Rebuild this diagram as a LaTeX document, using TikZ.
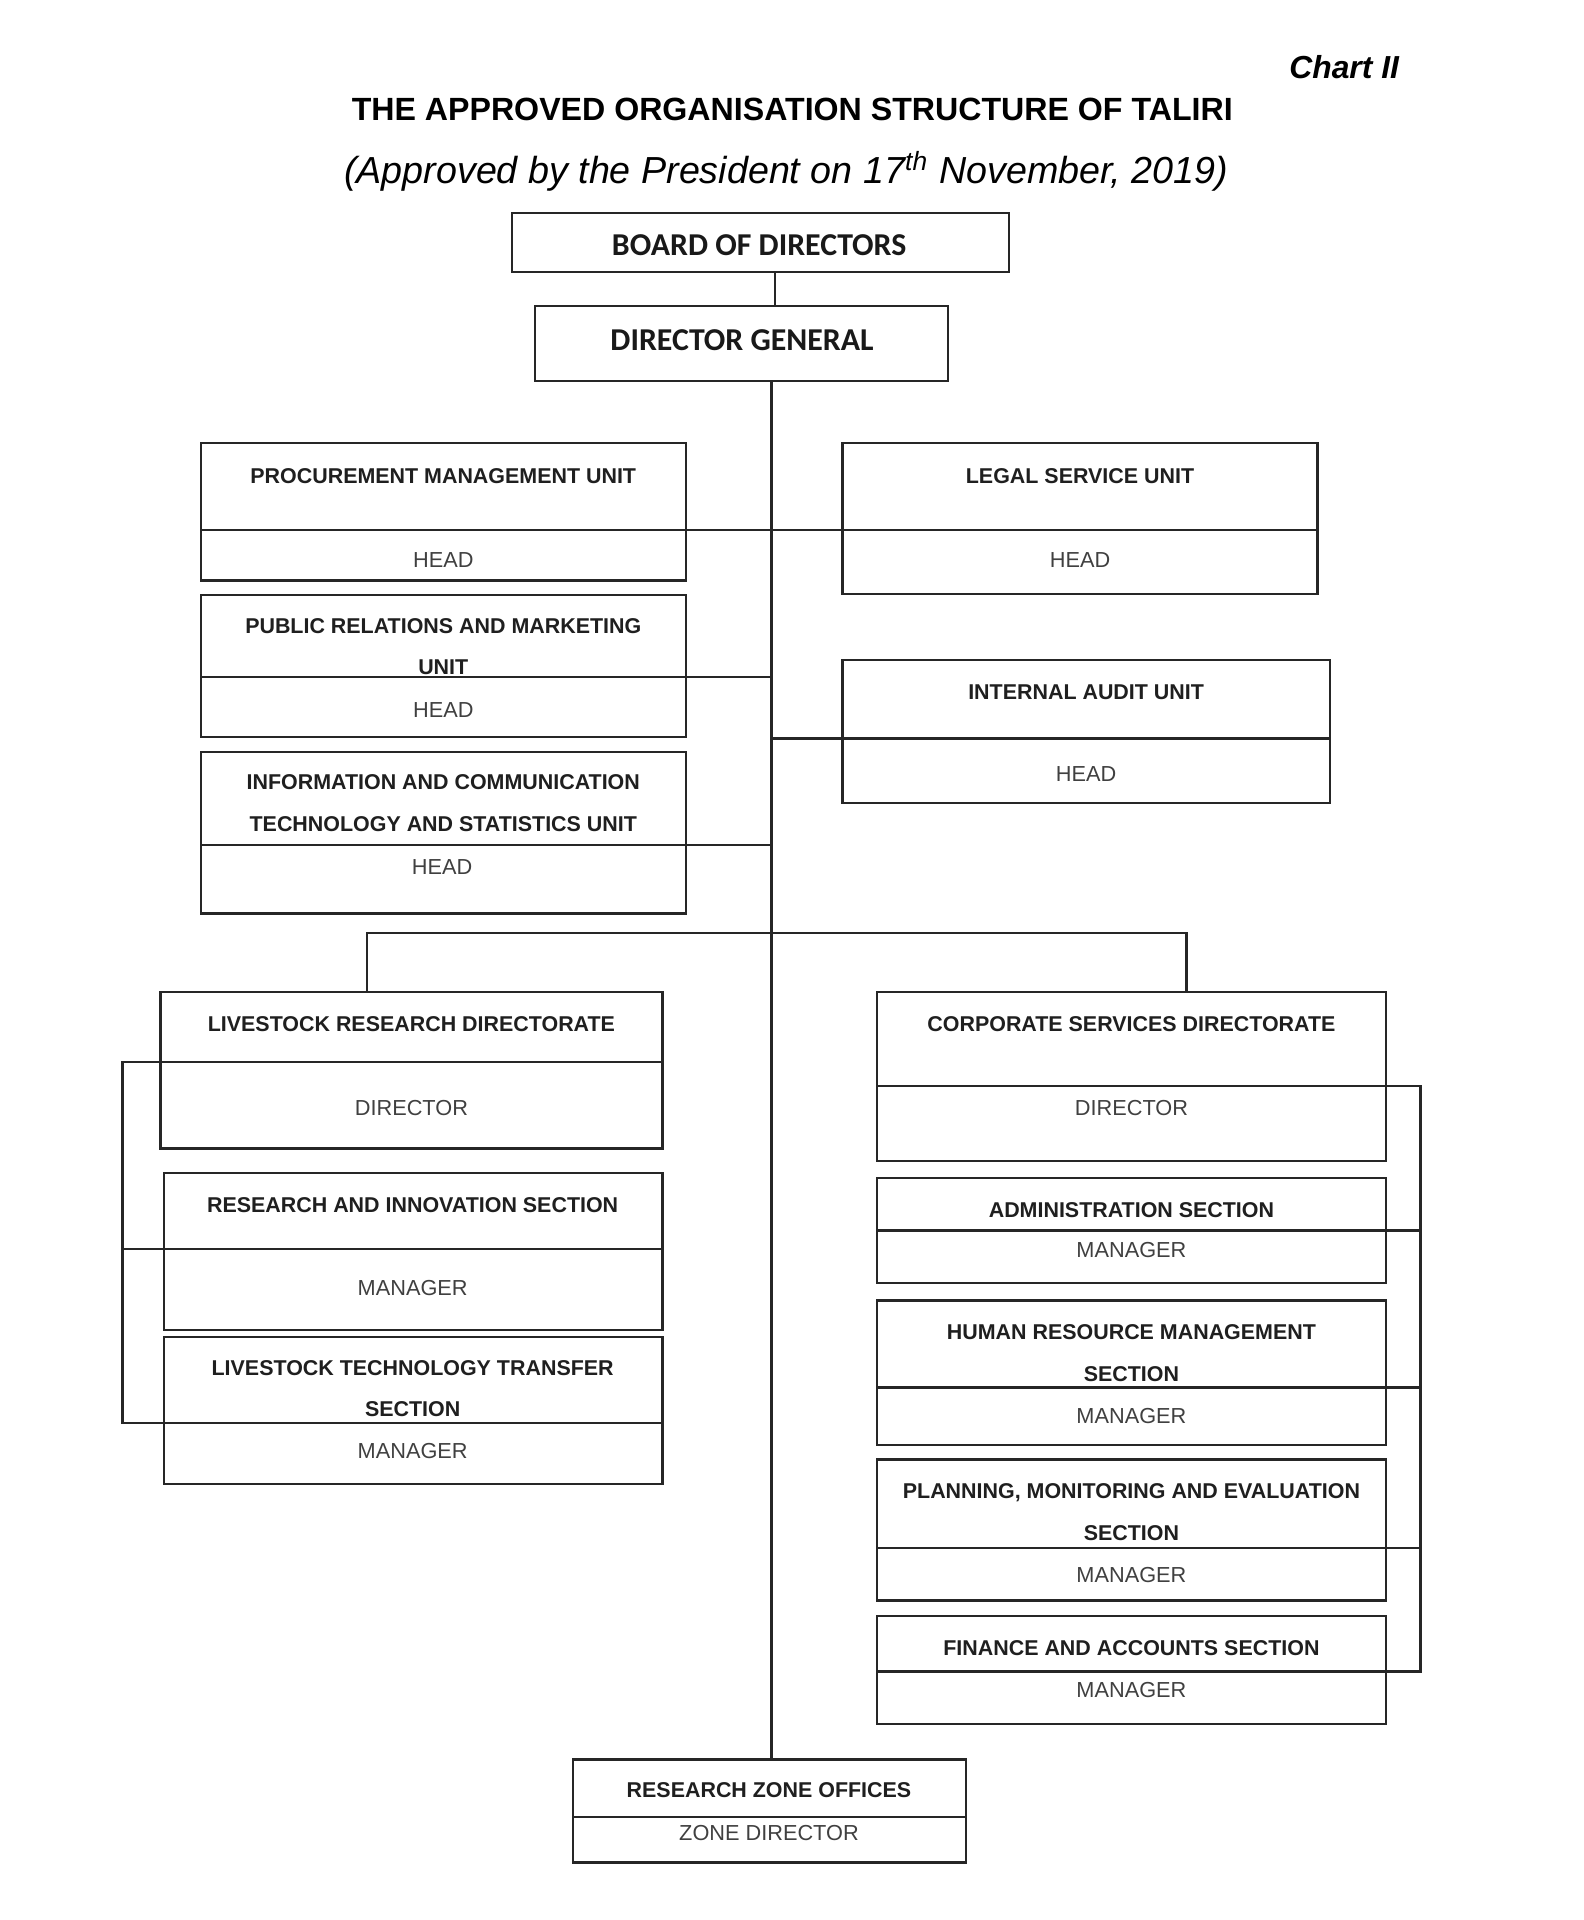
\documentclass[tikz,border=0pt]{standalone}
\usepackage{fontspec}
\setmainfont{Liberation Sans}
\newfontfamily\calib{Carlito}
\usetikzlibrary{fit}
\tikzset{
  box/.style={draw=black!85, line width=0.75pt, inner sep=0pt, outer sep=0pt},
  ln/.style={draw=black!85, line width=0.75pt},
  hd/.style={font=\bfseries\fontsize{7}{13.6}\selectfont, align=center, text=black!88},
  sub/.style={font=\fontsize{7.1}{8}\selectfont, text=black!75},
  big/.style={font=\calib\bfseries\fontsize{10.4}{12}\selectfont, text=black!90}
}
\newcommand\orgbox[6]{%
  \node[box, fit={(#2,#3)(#4,#5)}] (#1) {};
  \draw[ln] (#2,#6) coordinate (#1-dl) -- (#4,#6) coordinate (#1-dr);
}
\begin{document}
\begin{tikzpicture}[x=0.4pt,y=-0.4pt]
\useasboundingbox[fill=white] (0,0) rectangle (1293,1568);

% headings
\node[font=\bfseries\itshape\fontsize{10.4}{12}\selectfont, anchor=east, inner sep=0pt] (chart) at (1143,55) {Chart II};
\node[font=\bfseries\fontsize{10.5}{12}\selectfont] (title) at (647,89) {THE APPROVED ORGANISATION STRUCTURE OF TALIRI};
\node[font=\itshape\fontsize{12.3}{14}\selectfont] (subt) at (642,140) {(Approved by the President on 17\textsuperscript{th} November, 2019)};

% guide coordinates
\coordinate (trunk) at (630,0);
\coordinate (lbx) at (100,0);
\coordinate (rbx) at (1160,0);
\coordinate (bl) at (300,762);
\coordinate (br) at (969,762);
\coordinate (bodx) at (633,0);

% top boxes
\node[box, fit={(418,174)(824,222)}] (bod) {};
\node[big] (bodt) at (620,200) {BOARD OF DIRECTORS};
\node[box, fit={(437,250)(774,311)}] (dg) {};
\node[big] (dgt) at (606,278) {DIRECTOR GENERAL};

% units
\orgbox{pmu}{164}{362}{560}{474}{433}
\node[hd] (pmut) at (362,389) {PROCUREMENT MANAGEMENT UNIT};
\node[sub] (pmuh) at (362,457) {HEAD};

\orgbox{leg}{688}{362}{1076}{485}{433}
\node[hd] (legt) at (882,389) {LEGAL SERVICE UNIT};
\node[sub] (legh) at (882,457) {HEAD};

\orgbox{pr}{164}{486}{560}{602}{553}
\node[hd] (prt) at (362,528) {PUBLIC RELATIONS AND MARKETING\\UNIT};
\node[sub] (prh) at (362,580) {HEAD};

\orgbox{ia}{688}{539}{1086}{656}{603}
\node[hd] (iat) at (887,565) {INTERNAL AUDIT UNIT};
\node[sub] (iah) at (887,632) {HEAD};

\orgbox{ict}{164}{614}{560}{746}{690}
\node[hd] (ictt) at (362,656) {INFORMATION AND COMMUNICATION\\TECHNOLOGY AND STATISTICS UNIT};
\node[sub] (icth) at (361,708) {HEAD};

% livestock research directorate
\orgbox{lrd}{131}{810}{541}{938}{867}
\node[hd] (lrdt) at (336,836) {LIVESTOCK RESEARCH DIRECTORATE};
\node[sub] (lrdh) at (336,905) {DIRECTOR};

\orgbox{ris}{134}{958}{541}{1086}{1020}
\node[hd] (rist) at (337,984) {RESEARCH AND INNOVATION SECTION};
\node[sub] (rish) at (337,1052) {MANAGER};

\orgbox{ltt}{134}{1092}{541}{1212}{1162}
\node[hd] (lttt) at (337,1134) {LIVESTOCK TECHNOLOGY TRANSFER\\SECTION};
\node[sub] (ltth) at (337,1185) {MANAGER};

% corporate services directorate
\orgbox{csd}{716}{810}{1132}{948}{887}
\node[hd] (csdt) at (924,836) {CORPORATE SERVICES DIRECTORATE};
\node[sub] (csdh) at (924,905) {DIRECTOR};

\orgbox{adm}{716}{962}{1132}{1048}{1005}
\node[hd] (admt) at (924,988) {ADMINISTRATION SECTION};
\node[sub] (admh) at (924,1021) {MANAGER};

\orgbox{hrm}{716}{1062}{1132}{1180}{1133}
\node[hd] (hrmt) at (924,1105) {HUMAN RESOURCE MANAGEMENT\\SECTION};
\node[sub] (hrmh) at (924,1156) {MANAGER};

\orgbox{pme}{716}{1192}{1132}{1307}{1264}
\node[hd] (pmet) at (924,1235) {PLANNING, MONITORING AND EVALUATION\\SECTION};
\node[sub] (pmeh) at (924,1286) {MANAGER};

\orgbox{fas}{716}{1320}{1132}{1408}{1365}
\node[hd] (fast) at (924,1346) {FINANCE AND ACCOUNTS SECTION};
\node[sub] (fash) at (924,1380) {MANAGER};

% research zone offices
\orgbox{rzo}{468}{1437}{789}{1521}{1484}
\node[hd] (rzot) at (628,1462) {RESEARCH ZONE OFFICES};
\node[sub] (rzoh) at (628,1497) {ZONE DIRECTOR};

% connectors
\draw[ln] (bod.south -| bodx) -- (dg.north -| bodx);
\draw[ln] (dg.south -| trunk) -- (rzo.north -| trunk);
\draw[ln] (pmu-dr) -- (leg-dl);
\draw[ln] (pr-dr) -- (pr-dr -| trunk);
\draw[ln] (ia-dl -| trunk) -- (ia-dl);
\draw[ln] (ict-dr) -- (ict-dr -| trunk);
\draw[ln] (lrd.north -| bl) -- (bl) -- (br) -- (csd.north -| br);
\draw[ln] (lrd-dl) -- (lrd-dl -| lbx) -- (ltt-dl -| lbx) -- (ltt-dl);
\draw[ln] (ris-dl -| lbx) -- (ris-dl);
\draw[ln] (csd-dr) -- (csd-dr -| rbx) -- (fas-dr -| rbx) -- (fas-dr);
\draw[ln] (adm-dr) -- (adm-dr -| rbx);
\draw[ln] (hrm-dr) -- (hrm-dr -| rbx);
\draw[ln] (pme-dr) -- (pme-dr -| rbx);
\end{tikzpicture}
\end{document}
